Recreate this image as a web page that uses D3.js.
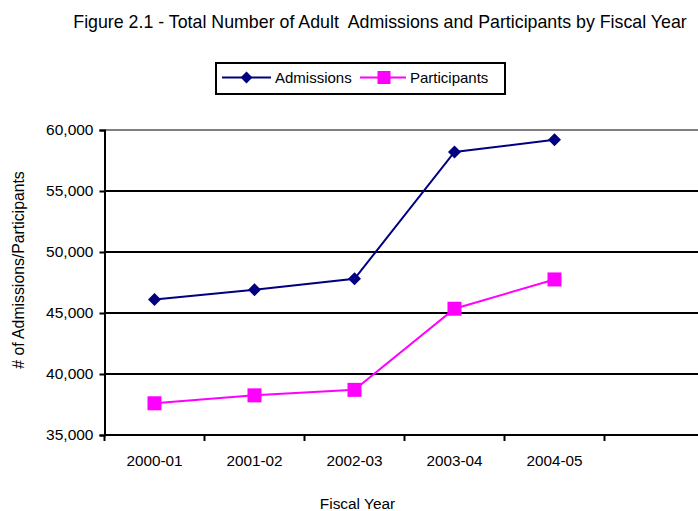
<!DOCTYPE html>
<html><head><meta charset="utf-8">
<script src="https://cdn.jsdelivr.net/npm/d3@7"></script>
<style>body{margin:0;background:#fff}svg{display:block;font-family:"Liberation Sans",Arial,sans-serif}</style>
</head><body><svg id="c" width="698" height="511"></svg>
<script>
const categories = ["2000-01","2001-02","2002-03","2003-04","2004-05"];
const slots = ["2000-01","2001-02","2002-03","2003-04","2004-05","(blank)"];
const admissions = [46100, 46900, 47800, 58200, 59200];
const participants = [37600, 38250, 38700, 45350, 47750];
const yTicks = [35000, 40000, 45000, 50000, 55000, 60000];
const seriesNames = ["Admissions","Participants"];
const title = "Figure 2.1 - Total Number of Adult  Admissions and Participants by Fiscal Year";

const svg = d3.select("#c");
const L = 104.5, R = 704.5, T = 130, B = 435;
const x = d3.scaleBand().domain(slots).range([L, R]);
const y = d3.scaleLinear().domain([35000, 60000]).range([B, T]);
const fmt = d3.format(",");

// title
svg.append("text").attr("x", 380).attr("y", 28).attr("text-anchor","middle")
  .attr("font-size", 17.8).style("white-space","pre").text(title);

// gridlines
svg.append("g").selectAll("line").data(yTicks).join("line")
  .attr("x1", L).attr("x2", R).attr("y1", d=>y(d)).attr("y2", d=>y(d))
  .attr("stroke", d=> d===60000 ? "#808080" : "#000").attr("stroke-width", 2);

// y axis
const ya = svg.append("g").attr("transform",`translate(${L},0)`)
  .call(d3.axisLeft(y).tickValues(yTicks).tickFormat(fmt).tickSize(5).tickPadding(6));
ya.select(".domain").attr("stroke","#000").attr("stroke-width",2);
ya.selectAll(".tick line").attr("stroke","#000").attr("stroke-width",2);
ya.selectAll("text").attr("font-size",15.5).attr("fill","#000").attr("font-family","Liberation Sans, Arial, sans-serif");

// x axis
const xa = svg.append("g").attr("transform",`translate(0,${B})`);
xa.append("line").attr("x1",L).attr("x2",R).attr("stroke","#000").attr("stroke-width",2);
const edges = slots.map(s=>x(s)).concat([R]);
xa.selectAll("line.t").data(edges).join("line").attr("class","t")
  .attr("x1",d=>d).attr("x2",d=>d).attr("y1",0).attr("y2",6).attr("stroke","#000").attr("stroke-width",2);
xa.selectAll("text").data(categories).join("text")
  .attr("x", d=>x(d)+x.bandwidth()/2).attr("y", 31).attr("text-anchor","middle")
  .attr("font-size",15.3).text(d=>d);

// axis titles
svg.append("text").attr("transform","translate(24,270) rotate(-90)").attr("text-anchor","middle")
  .attr("font-size",15.8).text("# of Admissions/Participants");
svg.append("text").attr("x",357.5).attr("y",509).attr("text-anchor","middle")
  .attr("font-size",15.4).text("Fiscal Year");

const cx = d => x(d)+x.bandwidth()/2;
const line = d3.line().x(d=>cx(d[0])).y(d=>y(d[1]));
const aData = categories.map((c,i)=>[c, admissions[i]]);
const pData = categories.map((c,i)=>[c, participants[i]]);
const navy = "#000080", mag = "#FF00FF";
svg.append("path").datum(aData).attr("d",line).attr("fill","none").attr("stroke",navy).attr("stroke-width",2);
svg.append("path").datum(pData).attr("d",line).attr("fill","none").attr("stroke",mag).attr("stroke-width",2);
svg.append("g").selectAll("path").data(aData).join("path")
  .attr("d", d3.symbol().type(d3.symbolSquare).size(85)()).attr("fill",navy)
  .attr("transform",d=>`translate(${cx(d[0])},${y(d[1])}) rotate(45)`);
svg.append("g").selectAll("rect").data(pData).join("rect")
  .attr("x",d=>cx(d[0])-7).attr("y",d=>y(d[1])-7).attr("width",14).attr("height",14).attr("fill",mag);

// legend
const lg = svg.append("g");
lg.append("rect").attr("x",216).attr("y",63).attr("width",289).attr("height",31)
  .attr("fill","#fff").attr("stroke","#000").attr("stroke-width",2);
const ly = 77.5;
lg.append("line").attr("x1",222).attr("x2",271).attr("y1",ly).attr("y2",ly).attr("stroke",navy).attr("stroke-width",2);
lg.append("path").attr("d", d3.symbol().type(d3.symbolSquare).size(70)())
  .attr("transform",`translate(246.5,${ly}) rotate(45)`).attr("fill",navy);
lg.append("text").attr("x",275).attr("y",82.5).attr("font-size",15).text(seriesNames[0]);
lg.append("line").attr("x1",360).attr("x2",406).attr("y1",ly).attr("y2",ly).attr("stroke",mag).attr("stroke-width",2);
lg.append("rect").attr("x",377.5).attr("y",ly-6.5).attr("width",13).attr("height",13).attr("fill",mag);
lg.append("text").attr("x",410).attr("y",82.5).attr("font-size",15).text(seriesNames[1]);
</script></body></html>
